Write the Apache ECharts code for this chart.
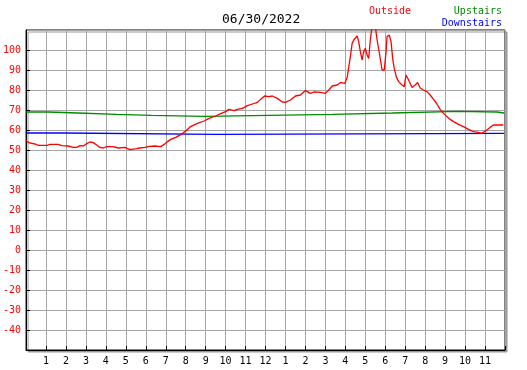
<!DOCTYPE html>
<html>
<head>
<meta charset="utf-8">
<script src="https://cdn.jsdelivr.net/npm/echarts@6/dist/echarts.min.js"></script>
<style>
  html, body { margin: 0; padding: 0; background: #fff; }
  #chart { width: 527px; height: 370px; }
</style>
</head>
<body>
<div id="chart"></div>
<script>
// hours of the day (0..24) and temperatures
const outsideHours = [0, 0.12, 0.45, 0.62, 1.04, 1.2, 1.62, 1.79, 2.12, 2.37, 2.54, 2.7, 2.87, 3.04, 3.2, 3.37, 3.54, 3.7, 3.87, 4.04,
  4.37, 4.62, 4.95, 5.2, 5.29, 5.54, 5.7, 5.95, 6.2, 6.45, 6.75, 6.92, 7.09, 7.25, 7.5, 7.75, 8, 8.25, 8.59, 8.92,
  9.17, 9.5, 9.75, 10, 10.17, 10.42, 10.59, 10.84, 11.09, 11.34, 11.59, 11.75, 11.95, 12.17, 12.34, 12.59, 12.84, 13, 13.25, 13.5,
  13.75, 14, 14.25, 14.42, 14.75, 15, 15.17, 15.34, 15.59, 15.75, 15.97, 16.09, 16.17, 16.25, 16.34, 16.42, 16.5, 16.59, 16.67, 16.75,
  16.84, 16.92, 17, 17.09, 17.17, 17.25, 17.34, 17.5, 17.59, 17.72, 17.84, 17.95, 18.04, 18.09, 18.2, 18.29, 18.37, 18.45, 18.55, 18.67,
  18.84, 18.95, 19.04, 19.17, 19.34, 19.5, 19.62, 19.75, 19.92, 20.09, 20.25, 20.42, 20.59, 20.75, 20.92, 21.09, 21.25, 21.42, 21.67, 21.92,
  22.17, 22.42, 22.67, 22.84, 22.92, 23.09, 23.25, 23.42, 23.92]
const outsideTemps = [54.7, 53.7, 53, 52.3, 52.3, 52.8, 52.8, 52.2, 52, 51.3, 51.3, 52.2, 52, 53.2, 54, 53.7, 52.5, 51.3, 51, 51.7,
  51.7, 51, 51.3, 50.2, 49.7, 50.7, 51, 51.3, 51.8, 52, 51.7, 52.8, 54.2, 55.3, 56.3, 57.7, 59.5, 61.7, 63.3, 64.5,
  65.8, 67, 68.2, 69.2, 70.3, 69.7, 70.3, 70.8, 72.2, 73, 73.8, 75.3, 77, 76.7, 77, 75.8, 74, 73.8, 75, 77,
  77.5, 79.7, 78.3, 79, 78.8, 78.3, 80, 82, 82.5, 83.8, 83.3, 86.2, 86.7, 96.7, 103.3, 105, 104.5, 107, 104.2, 99.2,
  95, 99.2, 100.8, 97.5, 95.8, 105, 112, 112, 105, 97.5, 90, 90, 99.2, 106.7, 107.5, 104.2, 95.8, 90.8, 86.7, 84.2,
  82.5, 81.7, 87.5, 85, 81.3, 82.5, 83.8, 81, 80, 79.2, 77.5, 75.3, 73, 70.3, 68.3, 66.7, 65.3, 64.2, 62.8, 61.7,
  60.3, 59.2, 58.8, 58.3, 58, 60, 61.3, 62.5, 62.5]

// indoor sensors only change in small steps
const upstairsHours = [0, 1.1, 2.6, 4.55, 6.3, 8.95, 15.35, 18.35, 21.6, 23.6, 23.95]
const upstairsTemps = [69, 68.5, 67.8, 67.3, 66.8, 67.8, 68.5, 69.3, 69, 68.5, 68.5]

const downstairsHours = [0, 1.9, 9.55, 23.95]
const downstairsTemps = [58.5, 57.8, 58.3, 58.3]

const hourLabels = ['', '1', '2', '3', '4', '5', '6', '7', '8', '9', '10', '11', '12',
  '1', '2', '3', '4', '5', '6', '7', '8', '9', '10', '11', '']

function pairs(xs, ys) {
  return xs.map((x, i) => [x, ys[i]])
}

// hold each reading until the next one
function steps(xs, ys) {
  let out = []
  for (let i = 0; i < xs.length; i++) {
    if (i > 0) out.push([xs[i], ys[i - 1]])
    out.push([xs[i], ys[i]])
  }
  return out
}

const mono = 'DejaVu Sans Mono'
const chart = echarts.init(document.getElementById('chart'))

chart.setOption({
  animation: false,
  backgroundColor: '#fff',
  title: [
    { text: '06/30/2022', left: 222, top: 13, padding: 0,
      textStyle: { fontFamily: mono, fontSize: 13, fontWeight: 'normal', color: '#000' } },
    { text: 'Outside', left: 369, top: 6, padding: 0,
      textStyle: { fontFamily: mono, fontSize: 10, fontWeight: 'normal', color: '#ff0000' } },
    { text: 'Upstairs', right: 25, top: 6, padding: 0,
      textStyle: { fontFamily: mono, fontSize: 10, fontWeight: 'normal', color: '#008c00' } },
    { text: 'Downstairs', right: 25, top: 18, padding: 0,
      textStyle: { fontFamily: mono, fontSize: 10, fontWeight: 'normal', color: '#0000ff' } }
  ],
  grid: {
    left: 25, right: 22, top: 30, bottom: 20,
    show: true,
    backgroundColor: '#fff',
    borderColor: '#000',
    borderWidth: 1,
    shadowColor: '#999',
    shadowBlur: 0,
    shadowOffsetX: 2,
    shadowOffsetY: 2
  },
  xAxis: {
    type: 'value',
    min: 0,
    max: 24,
    interval: 1,
    axisLine: { show: true, onZero: false, lineStyle: { color: '#000', width: 1 } },
    axisTick: { show: true, inside: true, length: 4, lineStyle: { color: '#000' } },
    axisLabel: {
      fontFamily: mono, fontSize: 10, color: '#000', margin: 6,
      formatter: v => hourLabels[v]
    },
    splitLine: { show: true, lineStyle: { color: '#a6a6a6', width: 1 } }
  },
  yAxis: {
    type: 'value',
    min: -50,
    max: 110,
    interval: 10,
    axisLine: { show: true, onZero: false, lineStyle: { color: '#000', width: 1 } },
    axisTick: { show: true, inside: true, length: 4, lineStyle: { color: '#000' } },
    axisLabel: {
      fontFamily: mono, fontSize: 10, color: '#ff0000', margin: 5,
      showMinLabel: false, showMaxLabel: false
    },
    splitLine: { show: true, lineStyle: { color: '#a6a6a6', width: 1 } }
  },
  series: [
    {
      name: 'Upstairs', type: 'line', showSymbol: false,
      lineStyle: { color: '#008c00', width: 1.3 },
      data: steps(upstairsHours, upstairsTemps)
    },
    {
      name: 'Downstairs', type: 'line', showSymbol: false,
      lineStyle: { color: '#0000ff', width: 1.3 },
      data: steps(downstairsHours, downstairsTemps)
    },
    {
      name: 'Outside', type: 'line', showSymbol: false, clip: true,
      lineStyle: { color: '#ff0000', width: 1.3 },
      data: pairs(outsideHours, outsideTemps)
    }
  ]
})
</script>
</body>
</html>
